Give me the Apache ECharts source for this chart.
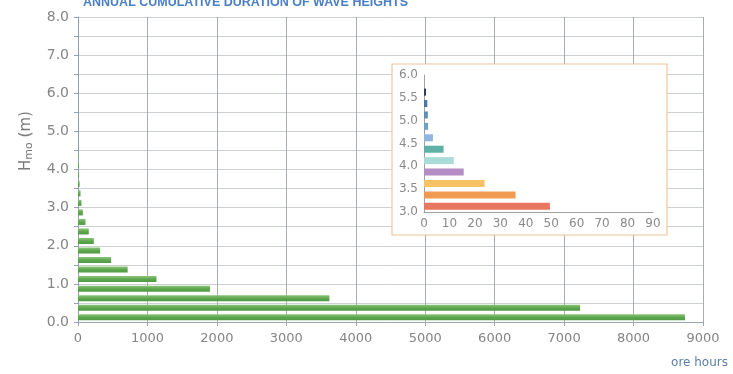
<!DOCTYPE html>
<html>
<head>
<meta charset="utf-8">
<script src="https://cdn.jsdelivr.net/npm/echarts@6/dist/echarts.min.js"></script>
<style>html,body{margin:0;padding:0;background:#fff;}#c{width:733px;height:374px;}</style>
</head>
<body>
<div id="c"></div>
<script>
// Main chart: wave height bins of 0.25 m (0.00 .. 8.00)
const mainBins = [];
for (let i = 0; i < 32; i++) mainBins.push((i * 0.25).toFixed(2) + '-' + ((i + 1) * 0.25).toFixed(2));
const mainHours = [8740, 7230, 3620, 1900, 1130, 715, 478, 319, 228, 155, 108, 70,
  49.5, 36, 23.8, 15.6, 11.7, 7.7, 3.5, 1.6, 1.5, 1.3, 0.8, 0,
  0, 0, 0, 0, 0, 0, 0, 0];

// Inset: bins 3.00 .. 6.00
const insetBins = ['3.00-3.25','3.25-3.50','3.50-3.75','3.75-4.00','4.00-4.25','4.25-4.50',
  '4.50-4.75','4.75-5.00','5.00-5.25','5.25-5.50','5.50-5.75','5.75-6.00'];
const insetHours = [49.5, 36, 23.8, 15.6, 11.7, 7.7, 3.5, 1.6, 1.5, 1.3, 0.8, 0];
const insetColors = ['#e9775f','#f09a52','#f6c265','#b68cc4','#a9dcd6','#5fb0a6',
  '#8fb6df','#6d9fc7','#5a8fb9','#4978a8','#303a5a','#303a5a'];

const mainXTicks = [0,1000,2000,3000,4000,5000,6000,7000,8000,9000];

const font = 'DejaVu Sans';
const chart = echarts.init(document.getElementById('c'));
chart.setOption({
  backgroundColor: '#ffffff',
  animation: false,
  title: [
    { text: 'ANNUAL CUMULATIVE DURATION OF WAVE HEIGHTS', left: 78, top: -9,
      textStyle: { color: '#4a7fc4', fontSize: 12.5, fontWeight: 'bold', fontFamily: 'Liberation Sans' } },
    { text: 'ore hours', right: 0, top: 352,
      textStyle: { color: '#5b7fa8', fontSize: 12, fontWeight: 'normal', fontFamily: font } }
  ],
  grid: [
    { left: 78, right: 30, top: 17, bottom: 52 },
    { left: 424, right: 80, top: 75, bottom: 162 }
  ],
  xAxis: [
    { type: 'value', gridIndex: 0, min: mainXTicks[0], max: mainXTicks[mainXTicks.length - 1], interval: 1000,
      axisLine: { show: true, lineStyle: { color: '#9aa6b0' } },
      axisTick: { show: true, length: 4, lineStyle: { color: '#9aa6b0' } },
      axisLabel: { color: '#858585', fontSize: 13, fontFamily: font, margin: 10, formatter: v => String(v) },
      splitLine: { show: true, lineStyle: { color: '#a9adb2', width: 1 } }, z: 0 },
    { type: 'value', gridIndex: 1, min: 0, max: 90, interval: 10,
      axisLine: { show: true, lineStyle: { color: '#a0a0a0' } },
      axisTick: { show: false },
      axisLabel: { color: '#8a8a8a', fontSize: 12, fontFamily: font, margin: 6, formatter: v => String(v) },
      splitLine: { show: false }, z: 5 }
  ],
  yAxis: [
    { type: 'category', gridIndex: 0, data: mainBins, show: false, z: 0 },
    { type: 'value', gridIndex: 0, min: 0, max: 8, interval: 0.5, position: 'left',
      axisLine: { show: true, lineStyle: { color: '#8fa3b3' } },
      axisTick: { show: true, length: 4, inside: false, lineStyle: { color: '#8fa3b3' } },
      axisLabel: { color: '#858585', fontSize: 14, fontFamily: font, margin: 9,
        formatter: v => (Math.abs(v % 1) < 1e-9 ? v.toFixed(1) : '') },
      splitLine: { show: true, lineStyle: { color: '#cdd0d3', width: 1 } }, z: 0 },
    { type: 'category', gridIndex: 1, data: insetBins, show: false, z: 5 },
    { type: 'value', gridIndex: 1, min: 3, max: 6, interval: 0.5, position: 'left',
      axisLine: { show: true, lineStyle: { color: '#a0a0a0' } },
      axisTick: { show: false },
      axisLabel: { color: '#8a8a8a', fontSize: 12, fontFamily: font, margin: 6,
        formatter: v => v.toFixed(1) },
      splitLine: { show: false }, z: 5 }
  ],
  graphic: [
    { type: 'rect', z: 1, shape: { x: 392, y: 64, width: 275, height: 171 },
      style: { fill: '#ffffff', stroke: '#f2c49a', lineWidth: 1.2 } },
    { type: 'text', z: 3, x: 26, y: 141, rotation: Math.PI / 2,
      style: { text: '{h|H}{s|mo}{h| (m)}', textAlign: 'center', textVerticalAlign: 'middle',
        rich: { h: { fontSize: 15, fill: '#7a7a7a', fontFamily: font },
                s: { fontSize: 11, fill: '#7a7a7a', fontFamily: font, padding: [6, 0, 0, 0] } } } }
  ],
  series: [
    { type: 'bar', xAxisIndex: 0, yAxisIndex: 0, data: mainHours, barWidth: 6, z: 2,
      itemStyle: { color: new echarts.graphic.LinearGradient(0, 0, 0, 1, [
        { offset: 0, color: '#8cc57c' }, { offset: 0.5, color: '#5fa74f' }, { offset: 1, color: '#4e9a42' }]) } },
    { type: 'bar', xAxisIndex: 1, yAxisIndex: 2, barWidth: 7, z: 6,
      data: insetHours.map((v, i) => ({ value: v, itemStyle: { color: insetColors[i] } })) }
  ]
});
</script>
</body>
</html>
